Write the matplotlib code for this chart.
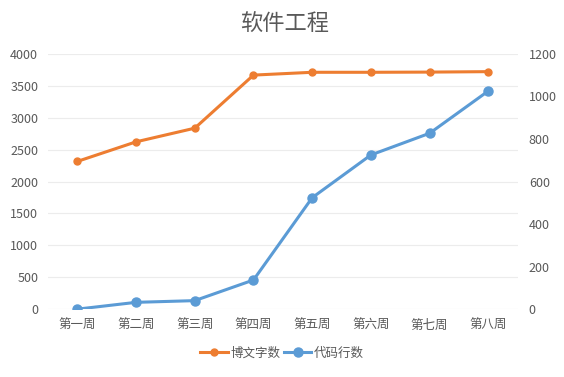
import matplotlib.pyplot as plt
import numpy as np

plt.rcParams['font.family'] = ['Noto Sans CJK SC', 'DejaVu Sans']

weeks = ["第一周", "第二周", "第三周", "第四周", "第五周", "第六周", "第七周", "第八周"]
words = [2315, 2622, 2836, 3668, 3712, 3712, 3715, 3722]
code_lines = [0, 32, 40, 137, 524, 725, 827, 1026]

orange = "#ED7D31"
blue = "#5B9BD5"
grey = "#595959"

fig = plt.figure(figsize=(5.64, 3.77), dpi=100)
ax = fig.add_axes([0.085, 0.18, 0.833, 0.677])
ax2 = ax.twinx()

x = np.arange(len(weeks))
l1, = ax.plot(x, words, color=orange, linewidth=2.2, marker="o", markersize=5, label="博文字数")
l2, = ax2.plot(x, code_lines, color=blue, linewidth=2.2, marker="o", markersize=6.5, label="代码行数")

ax.set_ylim(0, 4000)
ax.set_yticks(np.arange(0, 4001, 500))
ax2.set_ylim(0, 1200)
ax2.set_yticks(np.arange(0, 1201, 200))
ax.set_xlim(-0.5, 7.5)
ax.set_xticks(x)
ax.set_xticklabels(weeks)

ax.grid(axis="y", color="#ececec", linewidth=0.8)
ax.set_axisbelow(True)
for a in (ax, ax2):
    for s in a.spines.values():
        s.set_visible(False)
    a.tick_params(length=0, colors=grey, labelsize=9)
ax.tick_params(axis="y", pad=7)
ax2.tick_params(axis="y", pad=8)
ax.tick_params(axis="x", pad=7)

fig.suptitle("软件工程", x=0.505, y=0.965, fontsize=16, color=grey)

fig.legend(handles=[l1, l2], loc="center", bbox_to_anchor=(0.5, 0.063), ncol=2,
           frameon=False, fontsize=9, labelcolor=grey, handlelength=2.2,
           handletextpad=0.2, columnspacing=0.3)

fig.savefig("out.png")
